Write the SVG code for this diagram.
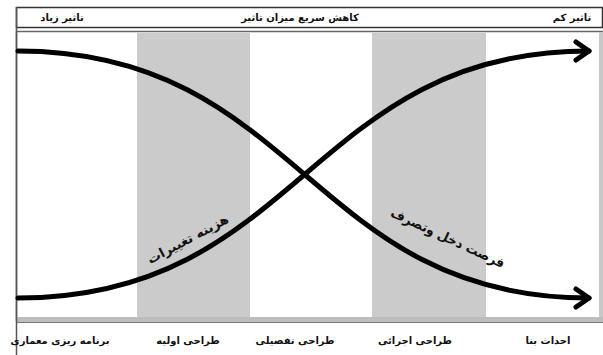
<svg xmlns="http://www.w3.org/2000/svg" width="603" height="355" viewBox="0 0 603 355">
<style>
  .lbl { font-family: "DejaVu Sans", sans-serif; font-weight: bold; font-size: 10px; fill: #111; text-anchor: middle; }
  .clbl { font-family: "DejaVu Sans", sans-serif; font-weight: bold; font-size: 13px; fill: #111; text-anchor: middle; }
  .phase { fill: #cbcbcb; }
  .curve { fill: none; stroke: #000; stroke-width: 5; stroke-linecap: round; }
</style>
<defs>
  <marker id="arrow" markerUnits="userSpaceOnUse" viewBox="-18 -14 22 28" markerWidth="22" markerHeight="28" refX="0" refY="0" orient="auto" overflow="visible">
    <path d="M-13,-9 L0,0 L-13,9" fill="none" stroke="#000" stroke-width="5" stroke-linecap="round" stroke-linejoin="round"/>
  </marker>
</defs>
<rect width="603" height="355" fill="#fff"/>
<g id="header">
  <rect x="16.5" y="7.5" width="586" height="20" fill="#fff" stroke="#333" stroke-width="1.5"/>
  <text class="lbl" x="62" y="21">تاثیر زیاد</text>
  <text class="lbl" x="300" y="21">کاهش سریع میزان تاثیر</text>
  <text class="lbl" x="572" y="21">تاثیر کم</text>
</g>
<g id="frame">
  <rect x="16.5" y="31.5" width="586" height="289" fill="#fff" stroke="#666" stroke-width="1.5"/>
  <rect id="phase-initial" class="phase" x="137" y="33" width="113" height="284"/>
  <rect id="phase-execution" class="phase" x="372" y="33" width="114" height="284"/>
  <rect x="599" y="32" width="4" height="286" fill="#c8c8c8"/>
  <rect x="17" y="317" width="586" height="5" fill="#bdbdbd"/>
  <line x1="17" y1="322.5" x2="603" y2="322.5" stroke="#777" stroke-width="1"/>
  <line x1="16.5" y1="7" x2="16.5" y2="355" stroke="#555" stroke-width="1.5"/>
</g>
<g id="connectors">
  <path id="opportunity" class="curve" d="M18,51 C300,51 310,298 589,298" marker-end="url(#arrow)"/>
  <path id="cost" class="curve" d="M18,298 C300,298 310,51 589,51" marker-end="url(#arrow)"/>
</g>
<g id="curve-labels">
  <text class="clbl" x="190" y="243" transform="rotate(-28 190 243)" textLength="90" lengthAdjust="spacingAndGlyphs">هزینه تغییرات</text>
  <text class="clbl" x="446" y="242" transform="rotate(25 446 242)" textLength="124" lengthAdjust="spacingAndGlyphs">فرصت دخل وتصرف</text>
</g>
<g id="phases">
  <text class="lbl" x="60" y="344">برنامه ریزی معماری</text>
  <text class="lbl" x="188" y="344">طراحی اولیه</text>
  <text class="lbl" x="295" y="344">طراحی تفصیلی</text>
  <text class="lbl" x="415" y="344">طراحی اجرائی</text>
  <text class="lbl" x="548" y="344">احداث بنا</text>
</g>
</svg>
